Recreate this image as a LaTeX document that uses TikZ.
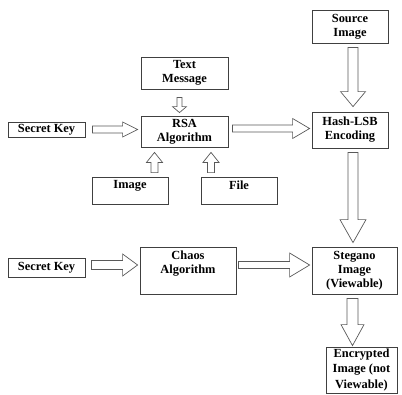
\documentclass[tikz,border=0pt]{standalone}
\usepackage{fontspec}
\setmainfont{Liberation Serif}
\usetikzlibrary{calc}
\newcommand{\blockarr}[5]{%
 \coordinate (ba-c) at ($(#2)!#5!(#1)$);
 \draw[barr] ($(#1)!#3!90:(#2)$) -- ($(ba-c)!#3!90:(#2)$) -- ($(ba-c)!#4!90:(#2)$) -- (#2) -- ($(ba-c)!#4!-90:(#2)$) -- ($(ba-c)!#3!-90:(#2)$) -- ($(#1)!#3!-90:(#2)$) -- cycle;}
\begin{document}
\begin{tikzpicture}[x=1pt,y=-1pt,
  box/.style={draw=black!75, line width=0.8pt, inner sep=0pt, align=center, font=\fontsize{12.4}{14}\selectfont\bfseries},
  lbl/.style={inner sep=0pt, align=center, font=\fontsize{12.4}{14}\selectfont\bfseries},
  barr/.style={draw=black!65, line width=0.7pt, fill=white, line join=miter}]
\useasboundingbox (0,0) rectangle (402,394);
\node[box, minimum width=76pt, minimum height=33pt] (src) at (350,26.5) {Source\\Image};
\node[box, minimum width=87pt, minimum height=32pt] (txt) at (184.5,73) {Text\\Message};
\node[box, minimum width=77pt, minimum height=15pt] (sk1) at (46.5,129.5) {Secret Key};
\node[box, minimum width=87pt, minimum height=31pt] (rsa) at (184.5,131.5) {RSA\\Algorithm};
\node[box, minimum width=76pt, minimum height=36pt] (hash) at (350,130) {Hash-LSB\\Encoding};
\node[box, minimum width=76pt, minimum height=27pt] (img) at (130,190.5) {};
\node[lbl] at ($(img.north)+(0,9)$) {Image};
\node[box, minimum width=76pt, minimum height=27pt] (file) at (239,190.5) {};
\node[lbl] at ($(file.north)+(0,9)$) {File};
\node[box, minimum width=77pt, minimum height=19pt] (sk2) at (46.5,267.5) {Secret Key};
\node[box, minimum width=96pt, minimum height=47pt] (chaos) at (188,270.5) {};
\node[lbl] at ($(chaos.north)+(0,17)$) {Chaos\\Algorithm};
\node[box, minimum width=85pt, minimum height=47pt] (steg) at (354.5,270.5) {Stegano\\Image\\(Viewable)};
\node[box, minimum width=71pt, minimum height=46pt, font=\fontsize{12.4}{15.5}\selectfont\bfseries] (enc) at (361.5,370) {Encrypted\\Image (not\\Viewable)};

\coordinate (a1) at ($(src.south)+(3,4)$);   \coordinate (b1) at ($(hash.north)+(3,-5)$);
\coordinate (a2) at ($(txt.south)+(-5,8)$);  \coordinate (b2) at ($(rsa.north)+(-5,-3)$);
\coordinate (a3) at ($(sk1.east)+(7,0)$);    \coordinate (b3) at ($(rsa.west)+(-3,-2)$);
\coordinate (a4) at ($(rsa.east)+(4,-3)$);   \coordinate (b4) at ($(hash.west)+(-2,-1.5)$);
\coordinate (a5) at ($(img.north)+(24.5,-4)$); \coordinate (b5) at ($(rsa.south)+(-30,5)$);
\coordinate (a6) at ($(file.north)+(-28,-4)$); \coordinate (b6) at ($(rsa.south)+(26.5,5)$);
\coordinate (a7) at ($(hash.south)+(3,4)$);  \coordinate (b7) at ($(steg.north)+(-1.5,-4)$);
\coordinate (a8) at ($(sk2.east)+(6,-2.5)$); \coordinate (b8) at ($(chaos.west)+(-2,-5.5)$);
\coordinate (a9) at ($(chaos.east)+(2,-5.5)$); \coordinate (b9) at ($(steg.west)+(-2,-5.5)$);
\coordinate (a10) at ($(steg.south)+(-2,4)$); \coordinate (b10) at ($(enc.north)+(-9,-1)$);

\blockarr{a1}{b1}{5pt}{12.5pt}{15pt}
\blockarr{a2}{b2}{2.5pt}{7pt}{6pt}
\blockarr{a3}{b3}{3.5pt}{7.5pt}{15pt}
\blockarr{a4}{b4}{3.5pt}{10pt}{17pt}
\blockarr{a5}{b5}{3.5pt}{8pt}{10pt}
\blockarr{a6}{b6}{3.5pt}{8pt}{10pt}
\blockarr{a7}{b7}{5pt}{13pt}{23pt}
\blockarr{a8}{b8}{4.5pt}{11pt}{15pt}
\blockarr{a9}{b9}{3.5pt}{12pt}{20pt}
\blockarr{a10}{b10}{5.5pt}{11.5pt}{21pt}
\end{tikzpicture}
\end{document}
